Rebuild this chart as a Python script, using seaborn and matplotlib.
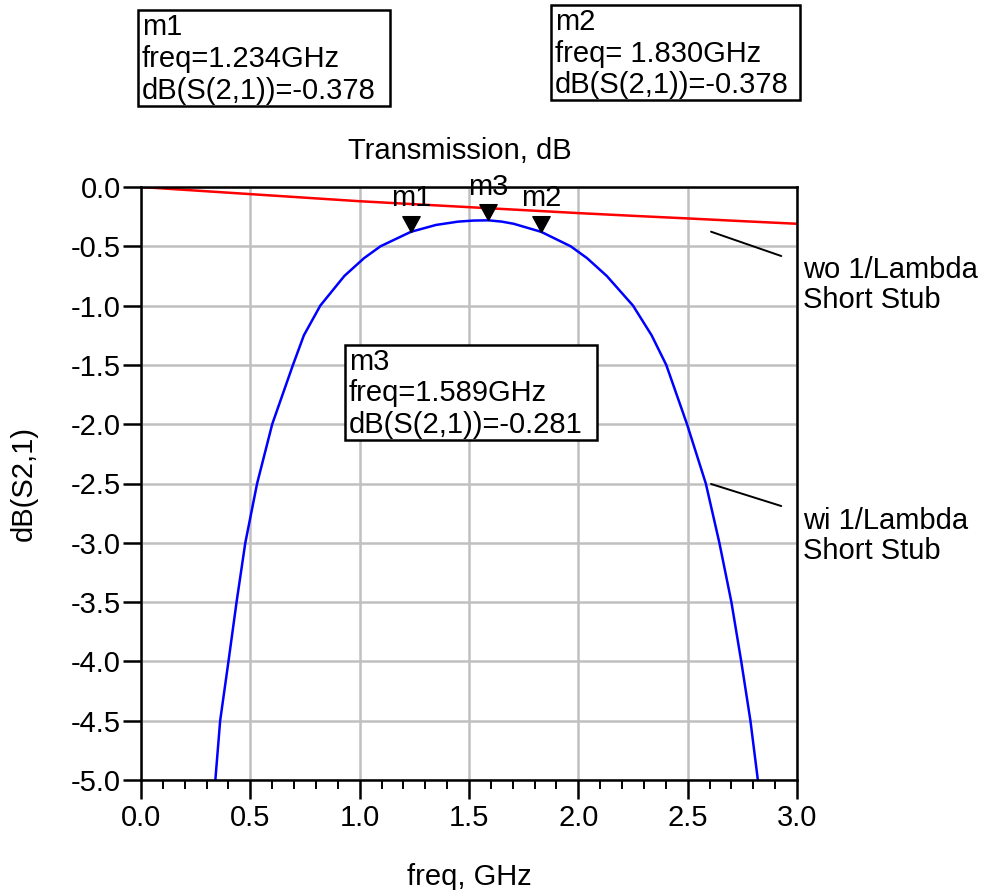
import numpy as np
import pandas as pd
import seaborn as sns
import matplotlib
matplotlib.use('Agg')
from matplotlib import pyplot as plt
from matplotlib.path import Path
from matplotlib.patches import Rectangle
from matplotlib.ticker import MultipleLocator

# values
freq_wi = [0.340, 0.362, 0.400, 0.437, 0.477, 0.531, 0.600, 0.695, 0.745, 0.820, 0.930,
           1.020, 1.095, 1.234, 1.349, 1.450, 1.520, 1.589, 1.650, 1.704, 1.830, 1.965,
           2.040, 2.130, 2.250, 2.335, 2.402, 2.497, 2.583, 2.645, 2.700, 2.745, 2.787, 2.821]
db_wi = [-5.00, -4.50, -4.00, -3.50, -3.00, -2.50, -2.00, -1.50, -1.25, -1.00, -0.75,
         -0.60, -0.50, -0.378, -0.32, -0.292, -0.283, -0.281, -0.292, -0.31, -0.378, -0.50,
         -0.60, -0.75, -1.00, -1.25, -1.50, -2.00, -2.50, -3.00, -3.50, -4.00, -4.50, -5.00]

freq_wo = [0.0, 0.25, 0.5, 0.75, 1.0, 1.25, 1.5, 1.75, 2.0, 2.25, 2.5, 2.75, 3.0]
db_wo = [0.0, -0.03, -0.06, -0.09, -0.12, -0.145, -0.17, -0.195, -0.22, -0.243, -0.265, -0.288, -0.31]

marker_names = ['m1', 'm3', 'm2']
marker_freq = [1.234, 1.589, 1.830]
marker_db = [-0.378, -0.281, -0.378]

sns.set_theme(style='ticks')
plt.rcParams['font.family'] = ['Liberation Sans', 'DejaVu Sans']
plt.rcParams['axes.unicode_minus'] = False
plt.rcParams['text.color'] = 'black'
plt.rcParams['axes.labelcolor'] = 'black'

fs = 21
W, H = 984, 890
fig = plt.figure(figsize=(W/100, H/100), dpi=100)
ax = fig.add_axes([141/W, 1-780/H, (797-141)/W, (780-187)/H])

df_wi = pd.DataFrame({'freq': freq_wi, 'dB': db_wi})
df_wo = pd.DataFrame({'freq': freq_wo, 'dB': db_wo})
sns.lineplot(data=df_wo, x='freq', y='dB', color='#ff0000', lw=1.8, sort=False, ax=ax)
sns.lineplot(data=df_wi, x='freq', y='dB', color='#0000ff', lw=1.8, sort=False, ax=ax)

ax.xaxis.set_major_locator(MultipleLocator(0.5))
ax.xaxis.set_minor_locator(MultipleLocator(0.1))
ax.yaxis.set_major_locator(MultipleLocator(0.5))
ax.set_xlim(0, 3.0)
ax.set_ylim(-5.0, 0.0)
ax.set_xticks(ax.get_xticks())
ax.set_xticklabels([f'{v:.1f}' for v in ax.get_xticks()])
ax.set_yticks(ax.get_yticks())
ax.set_yticklabels([f'{v:.1f}' for v in ax.get_yticks()])
ax.set_xlim(0, 3.0)
ax.set_ylim(-5.0, 0.0)
ax.grid(True, which='major', color='#c0c0c0', lw=1.8)
ax.set_axisbelow(True)
for s in ax.spines.values():
    s.set_color('black')
    s.set_linewidth(1.8)
ax.tick_params(axis='x', which='major', direction='out', length=13.5, width=1.8,
               labelsize=fs, colors='black', pad=4)
ax.tick_params(axis='x', which='minor', direction='out', length=6.5, width=1.4, colors='black')
ax.tick_params(axis='y', which='major', direction='out', length=13, width=1.8,
               labelsize=fs, colors='black', pad=1.5)
ax.set_xlabel('freq, GHz', fontsize=fs, labelpad=22)
ax.set_ylabel('dB(S2,1)', fontsize=fs)
ax.yaxis.set_label_coords(-0.157, 0.5)
ax.set_title('Transmission, dB', fontsize=fs, pad=20, x=0.486)

# marker triangles, tip sitting on the trace
tri = Path([(-0.6, 1.1), (0.6, 1.1), (0.0, 0.0), (-0.6, 1.1)],
           [Path.MOVETO, Path.LINETO, Path.LINETO, Path.CLOSEPOLY])
ax.scatter(marker_freq, marker_db, marker=tri, s=520, color='black', zorder=5, clip_on=False)
for name, f, d in zip(marker_names, marker_freq, marker_db):
    ax.annotate(name, (f, d), xytext=(0, 14), textcoords='offset points',
                ha='center', va='bottom', fontsize=fs)

# trace labels
ax.plot([2.607, 2.928], [-0.377, -0.582], color='black', lw=1.4, clip_on=False)
ax.plot([2.607, 2.928], [-2.504, -2.69], color='black', lw=1.4, clip_on=False)
fig.text(803/W, 1-285/H, 'wo 1/Lambda\nShort Stub', fontsize=fs, va='center',
         ha='left', linespacing=1.05)
fig.text(803/W, 1-536/H, 'wi 1/Lambda\nShort Stub', fontsize=fs, va='center',
         ha='left', linespacing=1.05)

# marker readout boxes
boxes = [(138, 10, 390, 106, 'm1\nfreq=1.234GHz\ndB(S(2,1))=-0.378'),
         (551, 5, 800, 100, 'm2\nfreq= 1.830GHz\ndB(S(2,1))=-0.378'),
         (345, 345, 597, 440, 'm3\nfreq=1.589GHz\ndB(S(2,1))=-0.281')]
for x0, y0, x1, y1, txt in boxes:
    fig.patches.append(Rectangle((x0/W, 1-y1/H), (x1-x0)/W, (y1-y0)/H,
                                 transform=fig.transFigure, fc='white', ec='black',
                                 lw=1.8, zorder=6))
    fig.text((x0+4)/W, 1-(y0+(y1-y0)/2+1)/H, txt, fontsize=fs, va='center', ha='left',
             linespacing=1.17, zorder=7)

fig.savefig('out.png', dpi=100)
